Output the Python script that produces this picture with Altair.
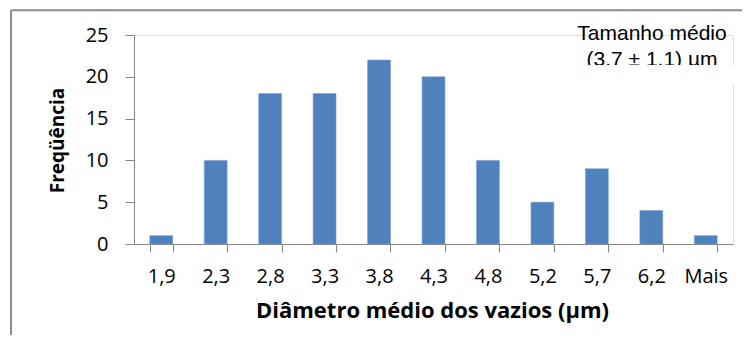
import altair as alt
import pandas as pd

categories = ["1,9", "2,3", "2,8", "3,3", "3,8", "4,3", "4,8", "5,2", "5,7", "6,2", "Mais"]
frequencies = [1, 10, 18, 18, 22, 20, 10, 5, 9, 4, 1]
y_ticks = [0, 5, 10, 15, 20, 25]
note_lines = ["Tamanho médio", "(3.7 ± 1.1) µm"]

df = pd.DataFrame({"cat": categories, "freq": frequencies})
note_df = pd.DataFrame({"t": ["\n".join(note_lines)]})

AXIS_GRAY = "#868686"
FONT = "Open Sans"

bars = alt.Chart(df).mark_bar(color="#4F81BD", stroke="#7aa0d0", strokeWidth=0.6).encode(
    x=alt.X(
        "cat:N",
        sort=categories,
        scale=alt.Scale(paddingInner=0.58, paddingOuter=0.29),
        axis=alt.Axis(
            title="Diâmetro médio dos vazios (µm)",
            labelAngle=0,
            tickBand="extent",
            tickSize=8,
            tickColor=AXIS_GRAY,
            domainColor=AXIS_GRAY,
            labelFont=FONT,
            labelFontSize=20,
            labelColor="#000000",
            labelBaseline="alphabetic",
            labelPadding=30,
            titleFont=FONT,
            titleFontSize=22,
            titleFontWeight="bold",
            titleColor="#000000",
            titleX=298,
            titleY=73,
            titleBaseline="alphabetic",
            titleAlign="center",
        ),
    ),
    y=alt.Y(
        "freq:Q",
        scale=alt.Scale(domain=[0, 25]),
        axis=alt.Axis(
            values=y_ticks,
            title="Freqüência",
            grid=False,
            tickSize=9,
            tickColor=AXIS_GRAY,
            domainColor=AXIS_GRAY,
            labelFont=FONT,
            labelFontSize=20,
            labelColor="#000000",
            labelPadding=17,
            titleFont=FONT,
            titleFontSize=19,
            titleFontWeight="bold",
            titleColor="#000000",
            titleAngle=270,
            titleX=-71,
            titleY=105,
            titleBaseline="alphabetic",
            titleAlign="center",
        ),
    ),
)

frame_top = alt.Chart(note_df).mark_rule(color="#8c8c8c", strokeWidth=2).encode(
    x=alt.value(-123), x2=alt.value(640), y=alt.value(-24.7)
)
frame_left = alt.Chart(note_df).mark_rule(color="#8c8c8c", strokeWidth=2).encode(
    x=alt.value(-123), y=alt.value(-24.7), y2=alt.value(330)
)

note = alt.Chart(note_df).mark_text(
    font="Liberation Sans", fontSize=21, align="center", baseline="alphabetic",
    lineBreak="\n", lineHeight=26, color="#000000"
).encode(text="t:N", x=alt.value(518), y=alt.value(5))

note_clip = alt.Chart(note_df).mark_rect(color="#ffffff").encode(
    x=alt.value(420), x2=alt.value(600), y=alt.value(30), y2=alt.value(50)
)

chart = alt.layer(frame_top, frame_left, bars, note, note_clip).properties(
    width=599,
    height=209,
    autosize=alt.AutoSizeParams(type="none"),
    padding={"left": 126, "top": 27, "right": 9, "bottom": 91},
).configure_view(stroke=None).configure(background="#ffffff")

chart.save("out.html", embed_options={"renderer": "svg", "actions": False})
